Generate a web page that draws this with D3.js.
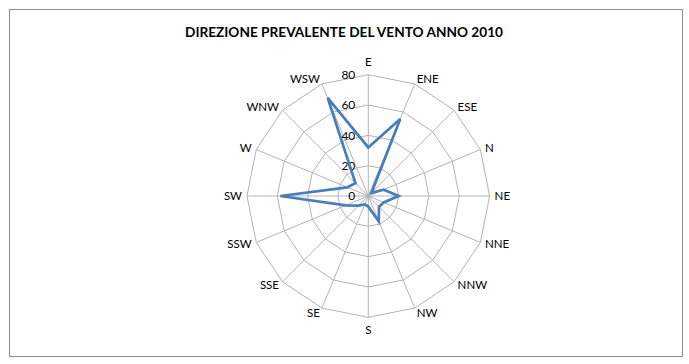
<!DOCTYPE html>
<html>
<head>
<meta charset="utf-8">
<script src="https://cdn.jsdelivr.net/npm/d3@7"></script>
<style>
  html, body { margin: 0; padding: 0; background: #fff; }
  svg { display: block; }
</style>
</head>
<body>
<svg id="chart" width="689" height="364"></svg>
<script>
const title = "DIREZIONE PREVALENTE DEL VENTO ANNO 2010";
const categories = ["E", "ENE", "ESE", "N", "NE", "NNE", "NNW", "NW", "S", "SE", "SSE", "SSW", "SW", "W", "WNW", "WSW"];
const values = [32, 55, 3, 11, 20, 11, 10, 18, 7, 6, 9, 16, 58, 15, 12, 70];
const ticks = [0, 20, 40, 60, 80];

const W = 689, H = 364;
const cx = 368.3, cy = 196, R = 121.3;
const svg = d3.select("#chart");

svg.append("rect").attr("x", 0).attr("y", 0).attr("width", W).attr("height", H).attr("fill", "#fff");
svg.append("rect").attr("x", 9.5).attr("y", 9.5).attr("width", 673).attr("height", 347)
  .attr("fill", "#fff").attr("stroke", "#8c8c8c").attr("stroke-width", 1);

svg.append("text").attr("x", 344).attr("y", 36.5).attr("text-anchor", "middle")
  .attr("font-family", "Lato, 'Open Sans', sans-serif").attr("font-weight", "bold")
  .attr("font-size", 14).attr("fill", "#000")
  .attr("textLength", 318).attr("lengthAdjust", "spacingAndGlyphs")
  .text(title);

const r = d3.scaleLinear().domain([0, 80]).range([0, R]);
const n = categories.length;
const ang = d3.scaleLinear().domain([0, n]).range([0, 2 * Math.PI]);

const g = svg.append("g").attr("transform", `translate(${cx},${cy})`);

// rings
const ringLine = d3.lineRadial().angle((d, i) => ang(i)).radius(d => r(d)).curve(d3.curveLinearClosed);
ticks.filter(t => t > 0).forEach(t => {
  g.append("path").attr("d", ringLine(categories.map(() => t)))
    .attr("fill", "none").attr("stroke", "#b3b3b3").attr("stroke-width", 1);
});
// spokes
categories.forEach((c, i) => {
  const a = ang(i);
  g.append("line").attr("x1", 0).attr("y1", 0)
    .attr("x2", r(80) * Math.sin(a)).attr("y2", -r(80) * Math.cos(a))
    .attr("stroke", "#b3b3b3").attr("stroke-width", 1);
});

// tick labels
ticks.forEach(t => {
  g.append("text").attr("x", -13).attr("y", -r(t)).attr("dy", "0.35em")
    .attr("text-anchor", "end").attr("font-family", "Lato, 'Open Sans', sans-serif")
    .attr("font-size", 12).attr("fill", "#000").text(t);
});

// category labels
categories.forEach((c, i) => {
  const a = ang(i);
  const s = Math.sin(a), co = Math.cos(a);
  const base = R + 5;
  let x = base * s, y = -base * co;
  const t = g.append("text").attr("font-family", "Lato, 'Open Sans', sans-serif")
    .attr("font-size", 11.5).attr("fill", "#000").text(c);
  const w = t.node().getComputedTextLength();
  if (Math.abs(s) > 0.1) x += Math.sign(s) * w / 2;
  if (Math.abs(co) > 0.95) y += -Math.sign(co) * 8;
  t.attr("x", x).attr("y", y).attr("dy", "0.35em").attr("text-anchor", "middle");
});

// data series
const dataLine = d3.lineRadial().angle((d, i) => ang(i)).radius(d => r(d)).curve(d3.curveLinearClosed);
g.append("path").attr("d", dataLine(values))
  .attr("fill", "none").attr("stroke", "#4A7EBB").attr("stroke-width", 2.75)
  .attr("stroke-linejoin", "miter");
</script>
</body>
</html>
